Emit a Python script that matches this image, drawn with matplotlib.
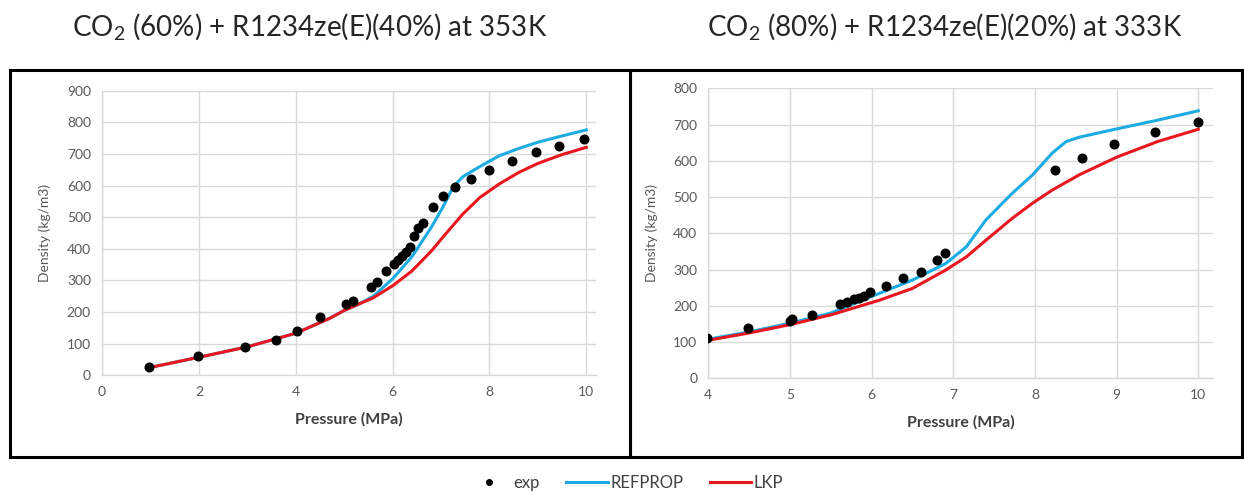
import matplotlib
matplotlib.use("Agg")
import matplotlib.pyplot as plt
from matplotlib.patches import Rectangle
from matplotlib.lines import Line2D

plt.rcParams['font.family'] = ['Lato', 'DejaVu Sans']
plt.rcParams['mathtext.fontset'] = 'custom'
plt.rcParams['mathtext.rm'] = 'Lato'

BLUE = '#1cabe2'
RED = '#e8161e'
GRID = '#d9d9d9'
TXT = '#595959'

# --- left: CO2 (60%) + R1234ze(E)(40%) at 353K ---
exp1_p = [0.97, 1.99, 2.96, 3.60, 4.03, 4.51, 5.04, 5.18, 5.56, 5.68, 5.86, 6.03, 6.11,
          6.20, 6.28, 6.35, 6.44, 6.52, 6.63, 6.83, 7.05, 7.28, 7.62, 8.0, 8.46, 8.96,
          9.44, 9.96]
exp1_d = [27, 61, 90, 112, 140, 183, 225, 236, 279, 295, 329, 352, 365, 377, 391, 407,
          441, 465, 481, 531, 568, 596, 621, 649, 679, 705, 725, 746]
ref1_p = [1, 2, 3, 4, 4.7, 5, 5.3, 5.6, 6.0, 6.4, 6.8, 7.05, 7.25, 7.45, 7.8, 8.2, 8.6,
          9.0, 9.5, 10]
ref1_d = [25, 57, 90, 133, 180, 205, 225, 250, 305, 375, 468, 535, 596, 628, 660, 694,
          717, 737, 757, 776]
lkp1_p = [1, 2, 3, 4, 4.7, 5, 5.6, 6.0, 6.4, 6.8, 7.1, 7.45, 7.8, 8.2, 8.6, 9.0, 9.5, 10]
lkp1_d = [25, 57, 90, 133, 180, 205, 245, 283, 330, 393, 448, 510, 562, 605, 641, 670,
          698, 721]

# --- right: CO2 (80%) + R1234ze(E)(20%) at 333K ---
exp2_p = [3.98, 4.49, 5.0, 5.03, 5.27, 5.61, 5.70, 5.79, 5.85, 5.91, 5.98, 6.18, 6.39,
          6.60, 6.80, 6.90, 8.24, 8.58, 8.97, 9.47, 10.0]
exp2_d = [110, 140, 157, 163, 176, 205, 210, 218, 222, 228, 238, 256, 276, 294, 326, 345,
          575, 607, 646, 679, 706]
ref2_p = [4, 4.5, 5, 5.5, 6.09, 6.5, 6.91, 7.16, 7.4, 7.72, 7.97, 8.21, 8.38, 8.54, 9.0,
          9.5, 10]
ref2_d = [108, 128, 152, 180, 234, 271, 317, 363, 437, 510, 561, 621, 653, 665, 688, 712,
          738]
lkp2_p = [4, 4.5, 5, 5.5, 6.09, 6.5, 6.91, 7.16, 7.4, 7.72, 7.97, 8.21, 8.54, 9.0, 9.5, 10]
lkp2_d = [105, 125, 148, 175, 215, 248, 299, 335, 381, 441, 483, 519, 561, 610, 653, 687]

W, H = 1244, 495
fig = plt.figure(figsize=(W / 100, H / 100), dpi=100)


def px_axes(x0, x1, y_top, y_bot):
    return fig.add_axes([x0 / W, 1 - y_bot / H, (x1 - x0) / W, (y_bot - y_top) / H])


def style(ax, xlim, ylim, xticks, yticks):
    ax.set_xlim(*xlim)
    ax.set_ylim(*ylim)
    ax.set_xticks(xticks)
    ax.set_yticks(yticks)
    ax.grid(True, color=GRID, linewidth=1.0)
    ax.set_axisbelow(True)
    for s in ['top', 'right']:
        ax.spines[s].set_visible(False)
    for s in ['left', 'bottom']:
        ax.spines[s].set_color(GRID)
        ax.spines[s].set_linewidth(1.0)
    ax.tick_params(length=0, labelsize=10, labelcolor=TXT, pad=8)
    ax.set_xlabel('Pressure (MPa)', fontsize=11.5, fontweight='bold', color='#404040',
                  labelpad=10)
    ax.set_ylabel('Density (kg/m3)', fontsize=10, color=TXT, labelpad=11)


ax1 = px_axes(102, 596, 90.7, 375.3)
ax1.plot(ref1_p, ref1_d, color=BLUE, lw=2.2, zorder=2)
ax1.plot(lkp1_p, lkp1_d, color=RED, lw=2.2, zorder=3)
ax1.plot(exp1_p, exp1_d, 'o', color='black', ms=6.2, zorder=4)
style(ax1, (0, 10.2), (0, 900), range(0, 11, 2), range(0, 901, 100))

ax2 = px_axes(708.3, 1213, 88.3, 378.3)
ax2.plot(ref2_p, ref2_d, color=BLUE, lw=2.2, zorder=2)
ax2.plot(lkp2_p, lkp2_d, color=RED, lw=2.2, zorder=3)
ax2.plot(exp2_p, exp2_d, 'o', color='black', ms=6.2, zorder=4)
style(ax2, (4, 10.18), (0, 800), range(4, 11), range(0, 801, 100))

fig.text(310 / W, 1 - 27 / H, r'CO$_\mathregular{2}$ (60%) + R1234ze(E)(40%) at 353K',
         ha='center', va='center', fontsize=20, color='#262626')
fig.text(945 / W, 1 - 27 / H, r'CO$_\mathregular{2}$ (80%) + R1234ze(E)(20%) at 333K',
         ha='center', va='center', fontsize=20, color='#262626')

# panel frames
for x0, x1 in [(10, 630), (630, 1242)]:
    fig.add_artist(Rectangle((x0 / W, 1 - 457 / H), (x1 - x0) / W, (457 - 70) / H,
                             transform=fig.transFigure, fill=False, edgecolor='black',
                             linewidth=2.2))

handles = [Line2D([], [], marker='o', ls='none', color='black', ms=4),
           Line2D([], [], color=BLUE, lw=2.2),
           Line2D([], [], color=RED, lw=2.2)]
fig.legend(handles, ['exp', 'REFPROP', 'LKP'], loc='center', ncol=3,
           bbox_to_anchor=(626 / W, 1 - 483 / H), frameon=False, fontsize=12,
           labelcolor='#404040', handlelength=2.5, handletextpad=0.15, columnspacing=1.6)

fig.savefig('out.png', dpi=100)
